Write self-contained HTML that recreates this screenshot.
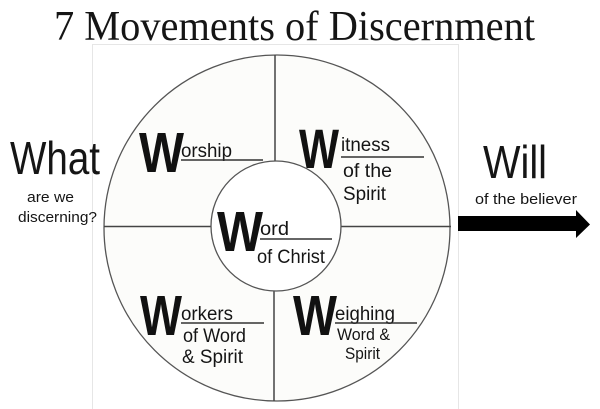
<!DOCTYPE html>
<html>
<head>
<meta charset="utf-8">
<style>
  html,body{margin:0;padding:0;background:#fff;}
  svg{display:block;}
  .s{font-family:"Liberation Sans","DejaVu Sans",sans-serif;fill:#151515;}
  .b{font-family:"Liberation Sans","DejaVu Sans",sans-serif;font-weight:bold;fill:#111;}
</style>
</head>
<body>
<svg width="600" height="409" viewBox="0 0 600 409" xmlns="http://www.w3.org/2000/svg">
  <rect x="0" y="0" width="600" height="409" fill="#fff"/>
  <!-- title -->
  <text x="54" y="40" font-family="Liberation Serif, serif" font-size="42" fill="#151515" textLength="481" lengthAdjust="spacingAndGlyphs">7 Movements of Discernment</text>

  <!-- faint frame -->
  <rect x="92.5" y="44.5" width="366" height="372" fill="#fff" stroke="#e6e6e6" stroke-width="1"/>

  <!-- outer circle -->
  <circle cx="277" cy="228" r="173" fill="#fcfcfa" stroke="#555" stroke-width="1.3"/>
  <!-- dividers -->
  <line x1="275" y1="55" x2="275" y2="161" stroke="#444" stroke-width="1.5"/>
  <line x1="274" y1="291" x2="274" y2="401" stroke="#444" stroke-width="1.5"/>
  <line x1="104" y1="226.5" x2="211" y2="226.5" stroke="#444" stroke-width="1.5"/>
  <line x1="341" y1="226.5" x2="451" y2="226.5" stroke="#444" stroke-width="1.5"/>
  <!-- inner circle -->
  <circle cx="276" cy="226" r="65" fill="#fff" stroke="#555" stroke-width="1.3"/>

  <!-- Worship -->
  <text class="b" x="139" y="172" font-size="57" textLength="45" lengthAdjust="spacingAndGlyphs">W</text>
  <text class="s" x="181" y="157" font-size="19" textLength="51" lengthAdjust="spacingAndGlyphs">orship</text>
  <line x1="181" y1="160" x2="263" y2="160" stroke="#333" stroke-width="1.5"/>

  <!-- Witness -->
  <text class="b" x="299" y="168" font-size="56" textLength="40" lengthAdjust="spacingAndGlyphs">W</text>
  <text class="s" x="341" y="151" font-size="19" textLength="49" lengthAdjust="spacingAndGlyphs">itness</text>
  <line x1="341" y1="157" x2="424" y2="157" stroke="#333" stroke-width="1.5"/>
  <text class="s" x="343" y="177" font-size="19" textLength="49" lengthAdjust="spacingAndGlyphs">of the</text>
  <text class="s" x="343" y="200" font-size="19" textLength="43" lengthAdjust="spacingAndGlyphs">Spirit</text>

  <!-- Word -->
  <text class="b" x="217" y="251" font-size="57" textLength="46" lengthAdjust="spacingAndGlyphs">W</text>
  <text class="s" x="260" y="235" font-size="19" textLength="29" lengthAdjust="spacingAndGlyphs">ord</text>
  <line x1="260" y1="239" x2="332" y2="239" stroke="#333" stroke-width="1.5"/>
  <text class="s" x="257" y="263" font-size="19" textLength="68" lengthAdjust="spacingAndGlyphs">of Christ</text>

  <!-- Workers -->
  <text class="b" x="140" y="335" font-size="57" textLength="42" lengthAdjust="spacingAndGlyphs">W</text>
  <text class="s" x="181" y="320" font-size="19" textLength="52" lengthAdjust="spacingAndGlyphs">orkers</text>
  <line x1="181" y1="323" x2="264" y2="323" stroke="#333" stroke-width="1.5"/>
  <text class="s" x="183" y="342" font-size="19" textLength="63" lengthAdjust="spacingAndGlyphs">of Word</text>
  <text class="s" x="182" y="363" font-size="19" textLength="61" lengthAdjust="spacingAndGlyphs">&amp; Spirit</text>

  <!-- Weighing -->
  <text class="b" x="293" y="335" font-size="57" textLength="44" lengthAdjust="spacingAndGlyphs">W</text>
  <text class="s" x="335" y="320" font-size="19" textLength="60" lengthAdjust="spacingAndGlyphs">eighing</text>
  <line x1="335" y1="323" x2="417" y2="323" stroke="#333" stroke-width="1.5"/>
  <text class="s" x="337" y="340" font-size="17" textLength="53" lengthAdjust="spacingAndGlyphs">Word &amp;</text>
  <text class="s" x="345" y="359" font-size="17" textLength="35" lengthAdjust="spacingAndGlyphs">Spirit</text>

  <!-- What -->
  <text class="s" x="10" y="174" font-size="46" textLength="90" lengthAdjust="spacingAndGlyphs">What</text>
  <text class="s" x="27" y="202" font-size="15" textLength="47" lengthAdjust="spacingAndGlyphs">are we</text>
  <text class="s" x="18" y="222" font-size="15" textLength="79" lengthAdjust="spacingAndGlyphs">discerning?</text>

  <!-- Will -->
  <text class="s" x="483" y="178" font-size="46" textLength="64" lengthAdjust="spacingAndGlyphs">Will</text>
  <text class="s" x="475" y="204" font-size="15" textLength="102" lengthAdjust="spacingAndGlyphs">of the believer</text>

  <!-- arrow -->
  <polygon points="458,216 576,216 576,210 590,224.5 576,238 576,231 458,231" fill="#000"/>
</svg>
</body>
</html>
